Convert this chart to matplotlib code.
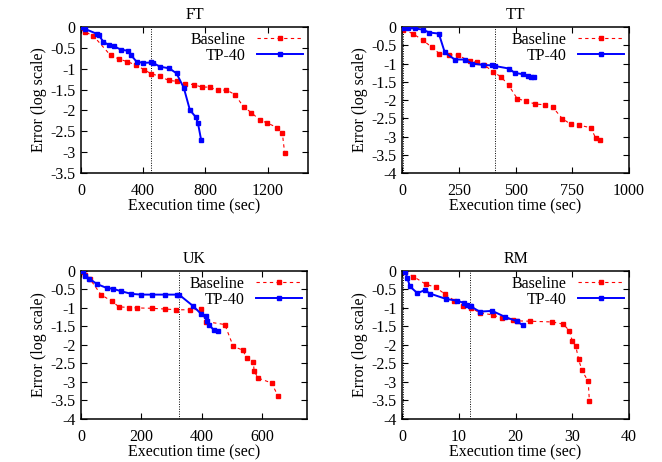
import matplotlib
matplotlib.use("Agg")
import matplotlib.pyplot as plt

plt.rcParams['font.family'] = ['Liberation Serif', 'DejaVu Serif']
plt.rcParams['font.size'] = 11.5

# FT
ft_base_x = [5, 28, 79, 190, 246, 297, 353, 404, 451, 507, 563, 614, 670, 725, 776, 828,
             879, 935, 990, 1046, 1095, 1149, 1198, 1260, 1294, 1309]
ft_base_y = [-0.02, -0.12, -0.21, -0.68, -0.77, -0.83, -0.91, -1.02, -1.12, -1.18, -1.28, -1.30,
             -1.36, -1.38, -1.44, -1.44, -1.52, -1.51, -1.62, -1.92, -2.05, -2.23, -2.30, -2.41,
             -2.53, -3.01]
ft_tp_x = [0, 28, 100, 113, 143, 177, 212, 255, 301, 323, 357, 400, 451, 464, 507, 567, 614,
           661, 700, 738, 751, 772]
ft_tp_y = [-0.01, -0.05, -0.16, -0.19, -0.35, -0.43, -0.46, -0.54, -0.57, -0.68, -0.83, -0.86,
           -0.85, -0.86, -0.95, -0.99, -1.11, -1.46, -1.99, -2.16, -2.29, -2.70]

# TT
tt_base_x = [6, 47, 92, 132, 165, 206, 245, 300, 330, 362, 402, 437, 470, 507, 546, 586, 630,
             664, 706, 742, 780, 832, 853, 874]
tt_base_y = [-0.07, -0.18, -0.36, -0.56, -0.73, -0.76, -0.77, -0.94, -0.96, -1.04, -1.23, -1.37,
             -1.60, -1.96, -2.03, -2.11, -2.13, -2.20, -2.51, -2.66, -2.69, -2.76, -3.05, -3.10]
tt_tp_x = [3, 25, 56, 91, 120, 162, 188, 232, 276, 308, 358, 396, 411, 473, 496, 532, 554, 569, 579]
tt_tp_y = [-0.04, -0.03, -0.04, -0.07, -0.15, -0.18, -0.69, -0.89, -0.89, -1.00, -1.04, -1.05,
           -1.07, -1.14, -1.26, -1.29, -1.33, -1.36, -1.38]

# UK
uk_base_x = [5, 12, 30, 66, 102, 126, 160, 186, 234, 280, 315, 361, 397, 415, 477, 505, 536,
             550, 572, 574, 588, 632, 654]
uk_base_y = [-0.03, -0.10, -0.22, -0.64, -0.82, -0.97, -0.99, -1.00, -1.01, -1.03, -1.05, -1.05,
             -1.04, -1.37, -1.45, -2.04, -2.14, -2.35, -2.45, -2.71, -2.90, -3.03, -3.39]
uk_tp_x = [5, 14, 28, 52, 85, 105, 134, 167, 200, 235, 277, 317, 325, 372, 398, 414, 418, 425,
           442, 455]
uk_tp_y = [-0.01, -0.13, -0.21, -0.35, -0.46, -0.48, -0.55, -0.62, -0.64, -0.64, -0.64, -0.64,
           -0.64, -0.95, -1.16, -1.21, -1.35, -1.46, -1.61, -1.63]

# RM
rm_base_x = [0.5, 2.0, 4.2, 5.9, 7.5, 9.2, 10.8, 12.2, 13.7, 16.0, 17.6, 19.6, 20.2, 22.6, 26.5,
             28.4, 29.5, 30.0, 30.6, 31.1, 31.7, 32.8, 33.0]
rm_base_y = [-0.03, -0.15, -0.36, -0.44, -0.62, -0.80, -0.94, -1.01, -1.13, -1.19, -1.28, -1.32,
             -1.35, -1.36, -1.38, -1.44, -1.62, -1.90, -2.03, -2.39, -2.69, -2.99, -3.51]
rm_tp_x = [0.6, 0.9, 1.4, 2.7, 4.0, 4.9, 7.8, 9.6, 11.0, 11.5, 11.9, 12.1, 13.7, 15.9, 18.1,
           20.2, 21.3]
rm_tp_y = [-0.02, -0.18, -0.42, -0.60, -0.52, -0.61, -0.76, -0.80, -0.87, -0.91, -0.95, -0.96,
           -1.10, -1.08, -1.24, -1.36, -1.47]

panels = [
    # title, base, tp, xlim, xticks, ylim, yticks, marker lines, rect
    ("FT", (ft_base_x, ft_base_y), (ft_tp_x, ft_tp_y), (0, 1460), [0, 400, 800, 1200],
     (-3.5, 0), [-3.5, -3, -2.5, -2, -1.5, -1, -0.5, 0], [452],
     [0.1224, 0.6255, 0.3430, 0.3160]),
    ("TT", (tt_base_x, tt_base_y), (tt_tp_x, tt_tp_y), (0, 1000), [0, 250, 500, 750, 1000],
     (-4, 0), [-4, -3.5, -3, -2.5, -2, -1.5, -1, -0.5, 0], [4, 410],
     [0.6073, 0.6255, 0.3430, 0.3160]),
    ("UK", (uk_base_x, uk_base_y), (uk_tp_x, uk_tp_y), (0, 750), [0, 200, 400, 600],
     (-4, 0), [-4, -3.5, -3, -2.5, -2, -1.5, -1, -0.5, 0], [325],
     [0.1224, 0.0935, 0.3415, 0.3200]),
    ("RM", (rm_base_x, rm_base_y), (rm_tp_x, rm_tp_y), (0, 40), [0, 10, 20, 30, 40],
     (-4, 0), [-4, -3.5, -3, -2.5, -2, -1.5, -1, -0.5, 0], [0.15, 12],
     [0.6073, 0.0935, 0.3430, 0.3200]),
]

fig = plt.figure(figsize=(6.62, 4.62), dpi=100)

for title, base, tp, xlim, xticks, ylim, yticks, marks, rect in panels:
    ax = fig.add_axes(rect)
    for m in marks:
        ax.axvline(m, color='black', lw=0.7, ls=(0, (1, 1.5)), zorder=1)
    ax.plot(base[0], base[1], color='#ff0000', lw=0.8, ls=(0, (3, 3)),
            marker='s', ms=3.4, mec='#ff0000', label='Baseline', zorder=2)
    ax.plot(tp[0], tp[1], color='#0000ff', lw=1.4, ls='-',
            marker='s', ms=2.4, mec='#0000ff', label='TP-40', zorder=3)
    ax.set_xlim(*xlim)
    ax.set_ylim(*ylim)
    ax.set_xticks(xticks)
    ax.set_yticks(yticks)
    ax.set_yticklabels(['%g' % v for v in yticks])
    ax.tick_params(direction='in', top=True, right=True, length=4, width=0.8)
    ax.tick_params(axis='x', pad=7)
    ax.tick_params(axis='y', pad=4)
    for s in ax.spines.values():
        s.set_linewidth(1.1)
    ax.set_title(title, fontsize=11.5, pad=6)
    ax.set_xlabel('Execution time (sec)', labelpad=0)
    ax.set_ylabel('Error (log scale)', labelpad=2)
    ax.legend(loc='upper right', frameon=False, markerfirst=False, handlelength=2.9,
              borderaxespad=0.1, borderpad=0.2, labelspacing=0.0, handletextpad=0.7)

fig.savefig('out.png', dpi=100)
